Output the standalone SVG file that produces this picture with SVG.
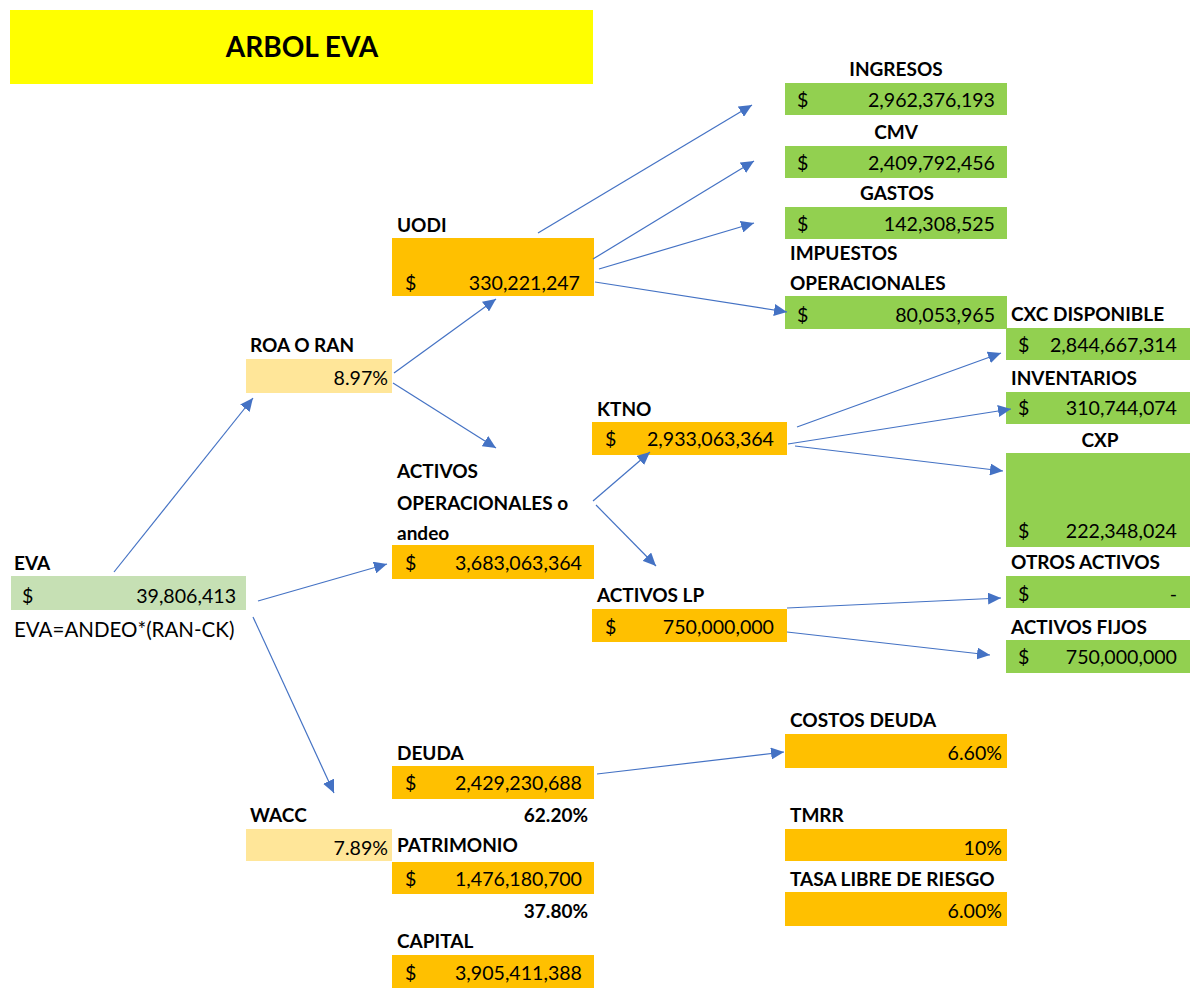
<svg xmlns="http://www.w3.org/2000/svg" width="1197" height="990" viewBox="0 0 1197 990">
<defs>
<marker id="ah" markerUnits="userSpaceOnUse" markerWidth="14" markerHeight="12" refX="13" refY="6" orient="auto">
<path d="M0,0 L13,6 L0,12 Z" fill="#4472C4"/>
</marker>
<style>
text{font-family:Lato,"Liberation Sans",sans-serif;fill:#000;}
.lbl{font-size:19px;font-weight:bold;}
.val{font-size:19.6px;}
.f{font-size:20.5px;}
.r{text-anchor:end;}
.c{text-anchor:middle;}
.title{font-size:28px;font-weight:bold;text-anchor:middle;}
.g{fill:#92D050;}
.o{fill:#FFC000;}
.lo{fill:#FFE699;}
.lg{fill:#C6E0B4;}
.cn line{stroke:#4472C4;stroke-width:1.2;marker-end:url(#ah);}
</style>
</defs>
<rect width="1197" height="990" fill="#fff"/>
<g id="title">
<rect x="10" y="10" width="583" height="74" fill="#FFFF00"/>
<text class="title" x="302" y="57">ARBOL EVA</text>
</g>
<g id="eva">
<text class="lbl" x="14" y="570">EVA</text>
<rect class="lg" x="11" y="576" width="235" height="34"/>
<text class="val" x="22" y="603">$</text>
<text class="val r" x="236" y="603">39,806,413</text>
<text class="f" x="14" y="637">EVA=ANDEO*(RAN-CK)</text>
</g>
<g id="roa">
<text class="lbl" x="250" y="352">ROA O RAN</text>
<rect class="lo" x="246" y="359" width="146" height="34"/>
<text class="val r" x="388" y="385">8.97%</text>
</g>
<g id="uodi">
<text class="lbl" x="397" y="232">UODI</text>
<rect class="o" x="392" y="238" width="202" height="58"/>
<text class="val" x="405" y="290">$</text>
<text class="val r" x="580" y="290">330,221,247</text>
</g>
<g id="activos-op">
<text class="lbl" x="397" y="478">ACTIVOS</text>
<text class="lbl" x="397" y="510">OPERACIONALES o</text>
<text class="lbl" x="397" y="540">andeo</text>
<rect class="o" x="392" y="545" width="202" height="34"/>
<text class="val" x="405" y="570">$</text>
<text class="val r" x="582" y="570">3,683,063,364</text>
</g>
<g id="ktno">
<text class="lbl" x="597" y="416">KTNO</text>
<rect class="o" x="592" y="422" width="195" height="33"/>
<text class="val" x="605" y="446">$</text>
<text class="val r" x="774" y="446">2,933,063,364</text>
</g>
<g id="activos-lp">
<text class="lbl" x="597" y="602">ACTIVOS LP</text>
<rect class="o" x="592" y="609" width="195" height="33"/>
<text class="val" x="605" y="634">$</text>
<text class="val r" x="774" y="634">750,000,000</text>
</g>
<g id="ingresos">
<text class="lbl c" x="896" y="76">INGRESOS</text>
<rect class="g" x="785" y="83" width="222" height="32"/>
<text class="val" x="797" y="107">$</text>
<text class="val r" x="995" y="107">2,962,376,193</text>
</g>
<g id="cmv">
<text class="lbl c" x="896" y="139">CMV</text>
<rect class="g" x="785" y="146" width="222" height="32"/>
<text class="val" x="797" y="170">$</text>
<text class="val r" x="995" y="170">2,409,792,456</text>
</g>
<g id="gastos">
<text class="lbl c" x="897" y="200">GASTOS</text>
<rect class="g" x="785" y="207" width="222" height="32"/>
<text class="val" x="797" y="231">$</text>
<text class="val r" x="995" y="231">142,308,525</text>
</g>
<g id="impuestos">
<text class="lbl" x="790" y="260">IMPUESTOS</text>
<text class="lbl" x="790" y="290">OPERACIONALES</text>
<rect class="g" x="785" y="296" width="222" height="33"/>
<text class="val" x="797" y="322">$</text>
<text class="val r" x="995" y="322">80,053,965</text>
</g>
<g id="cxc">
<text class="lbl" x="1011" y="321">CXC DISPONIBLE</text>
<rect class="g" x="1006" y="328" width="184" height="32"/>
<text class="val" x="1018" y="352">$</text>
<text class="val r" x="1177" y="352">2,844,667,314</text>
</g>
<g id="inventarios">
<text class="lbl" x="1011" y="385">INVENTARIOS</text>
<rect class="g" x="1006" y="392" width="184" height="32"/>
<text class="val" x="1018" y="415">$</text>
<text class="val r" x="1177" y="415">310,744,074</text>
</g>
<g id="cxp">
<text class="lbl c" x="1100" y="447">CXP</text>
<rect class="g" x="1006" y="453" width="184" height="94"/>
<text class="val" x="1018" y="538">$</text>
<text class="val r" x="1177" y="538">222,348,024</text>
</g>
<g id="otros-activos">
<text class="lbl" x="1011" y="569">OTROS ACTIVOS</text>
<rect class="g" x="1006" y="576" width="184" height="32"/>
<text class="val" x="1018" y="601">$</text>
<text class="val r" x="1177" y="601">-</text>
</g>
<g id="activos-fijos">
<text class="lbl" x="1011" y="634">ACTIVOS FIJOS</text>
<rect class="g" x="1006" y="640" width="184" height="33"/>
<text class="val" x="1018" y="664">$</text>
<text class="val r" x="1177" y="664">750,000,000</text>
</g>
<g id="wacc">
<text class="lbl" x="250" y="822">WACC</text>
<rect class="lo" x="246" y="829" width="146" height="32"/>
<text class="val r" x="388" y="855">7.89%</text>
</g>
<g id="deuda">
<text class="lbl" x="397" y="760">DEUDA</text>
<rect class="o" x="392" y="766" width="202" height="33"/>
<text class="val" x="405" y="790">$</text>
<text class="val r" x="582" y="790">2,429,230,688</text>
<text class="lbl r" x="588" y="822">62.20%</text>
</g>
<g id="patrimonio">
<text class="lbl" x="397" y="852">PATRIMONIO</text>
<rect class="o" x="392" y="862" width="202" height="32"/>
<text class="val" x="405" y="886">$</text>
<text class="val r" x="582" y="886">1,476,180,700</text>
<text class="lbl r" x="588" y="918">37.80%</text>
</g>
<g id="capital">
<text class="lbl" x="397" y="948">CAPITAL</text>
<rect class="o" x="392" y="955" width="202" height="33"/>
<text class="val" x="405" y="980">$</text>
<text class="val r" x="582" y="980">3,905,411,388</text>
</g>
<g id="costos-deuda">
<text class="lbl" x="790" y="727">COSTOS DEUDA</text>
<rect class="o" x="785" y="734" width="222" height="34"/>
<text class="val r" x="1002" y="760">6.60%</text>
</g>
<g id="tmrr">
<text class="lbl" x="790" y="822">TMRR</text>
<rect class="o" x="785" y="829" width="222" height="32"/>
<text class="val r" x="1002" y="855">10%</text>
</g>
<g id="tasa-libre">
<text class="lbl" x="790" y="886">TASA LIBRE DE RIESGO</text>
<rect class="o" x="785" y="892" width="222" height="34"/>
<text class="val r" x="1002" y="918">6.00%</text>
</g>
<g id="connectors" class="cn">
<line x1="114" y1="572" x2="253" y2="398"/>
<line x1="258" y1="601" x2="387" y2="564"/>
<line x1="253" y1="617" x2="334" y2="793"/>
<line x1="394" y1="373" x2="496" y2="299"/>
<line x1="393" y1="383" x2="496" y2="448"/>
<line x1="538" y1="233" x2="752" y2="105"/>
<line x1="593" y1="259" x2="754" y2="161"/>
<line x1="599" y1="269" x2="754" y2="223"/>
<line x1="595" y1="282" x2="787" y2="312"/>
<line x1="593" y1="501" x2="650" y2="452"/>
<line x1="596" y1="505" x2="656" y2="566"/>
<line x1="797" y1="427" x2="1001" y2="353"/>
<line x1="788" y1="444" x2="1011" y2="409"/>
<line x1="795" y1="446" x2="1003" y2="471"/>
<line x1="787" y1="608" x2="1001" y2="598"/>
<line x1="787" y1="632" x2="990" y2="655"/>
<line x1="597" y1="774" x2="784" y2="752"/>
</g>
</svg>
